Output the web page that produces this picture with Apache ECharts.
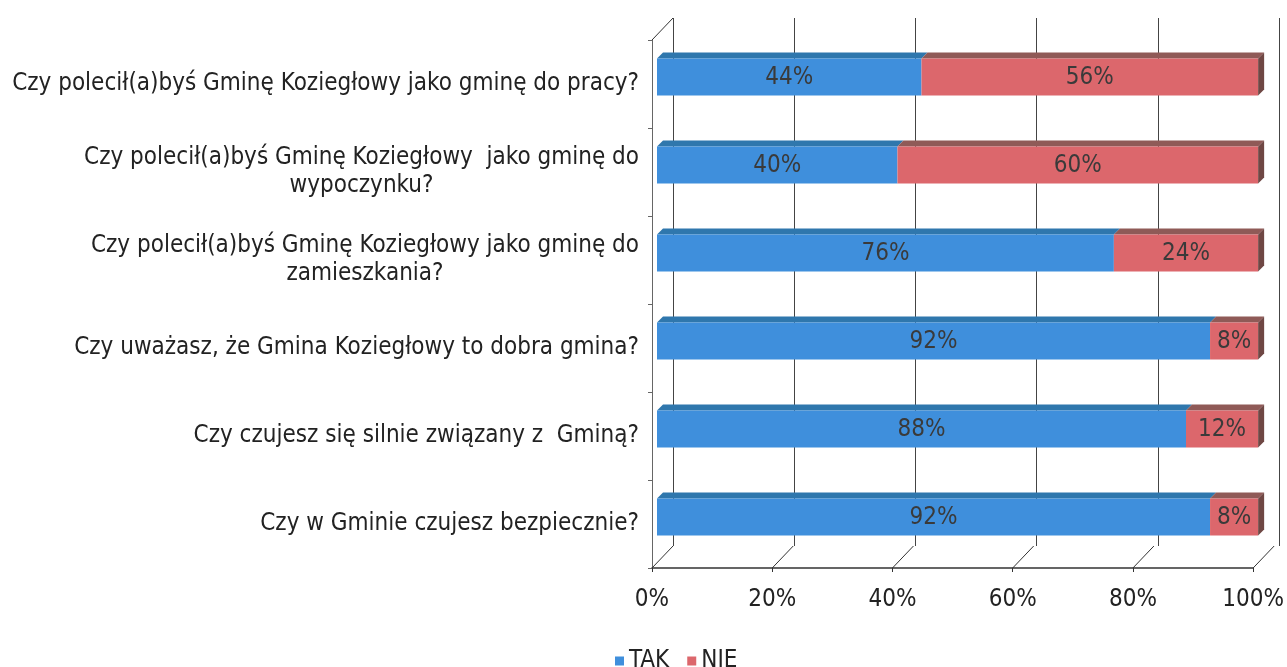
<!DOCTYPE html>
<html><head><meta charset="utf-8">
<script src="https://cdn.jsdelivr.net/npm/echarts@6/dist/echarts.min.js"></script>
<style>html,body{margin:0;padding:0;background:#fff}#c{width:1287px;height:667px}</style>
</head><body><div id="c"></div>
<script>
const categories = [
  'Czy polecił(a)byś Gminę Koziegłowy jako gminę do pracy?',
  'Czy polecił(a)byś Gminę Koziegłowy  jako gminę do\nwypoczynku?',
  'Czy polecił(a)byś Gminę Koziegłowy jako gminę do\nzamieszkania?',
  'Czy uważasz, że Gmina Koziegłowy to dobra gmina?',
  'Czy czujesz się silnie związany z  Gminą?',
  'Czy w Gminie czujesz bezpiecznie?'
];
const takValues = [44, 40, 76, 92, 88, 92];
const nieValues = [56, 60, 24, 8, 12, 8];
const xTicks = [0, 20, 40, 60, 80, 100];
const seriesNames = ['TAK', 'NIE'];

const FONT = '"DejaVu Sans Condensed", "Liberation Sans Narrow", "DejaVu Sans", sans-serif';
const FS = 24;
const BAR_H = 37;          // front face height
const FRONT = [5, -7];     // bar front plane offset from floor front
const DEPTH = [6, -6];     // bar depth
const WALL = [21, -22];    // back wall offset

const colors = {
  TAK: {front: '#3f8fdc', top: '#2f77ad', side: '#2a6a9a'},
  NIE: {front: '#dc676c', top: '#8f5a57', side: '#6f4744'}
};

function makeBarData(startArr, valArr) {
  return valArr.map((v, i) => [i, startArr[i], startArr[i] + v, v]);
}
const takData = makeBarData(takValues.map(() => 0), takValues);
const nieData = makeBarData(takValues, nieValues);

function barRenderer(name, isLast) {
  const c = colors[name];
  return function (params, api) {
    const ci = api.value(0);
    const p0 = api.coord([api.value(1), ci]);
    const p1 = api.coord([api.value(2), ci]);
    const x = p0[0] + FRONT[0];
    const y = p0[1] + FRONT[1] - BAR_H / 2;
    const w = p1[0] - p0[0];
    const h = BAR_H;
    const dx = DEPTH[0], dy = DEPTH[1];
    const children = [
      {type: 'polygon', shape: {points: [[x, y], [x + w, y], [x + w + dx, y + dy], [x + dx, y + dy]]},
        style: {fill: c.top}},
      {type: 'rect', shape: {x: x, y: y, width: w, height: h}, style: {fill: c.front}}
    ];
    if (isLast) {
      children.push({type: 'polygon',
        shape: {points: [[x + w, y], [x + w + dx, y + dy], [x + w + dx, y + h + dy], [x + w, y + h]]},
        style: {fill: c.side}});
    }
    children.push({type: 'text', style: {
      text: api.value(3) + '%', x: x + w / 2, y: y + h / 2 + 1,
      align: 'center', verticalAlign: 'middle',
      font: FS + 'px ' + FONT, fill: '#3a3a3a'}});
    return {type: 'group', children: children};
  };
}

function wallRenderer(params, api) {
  const cs = params.coordSys;
  const bottom = cs.y + cs.height;
  const x = api.coord([api.value(0), 0])[0];
  const children = [{type: 'line', shape: {x1: x, y1: bottom, x2: x + WALL[0], y2: bottom + WALL[1]},
    style: {stroke: '#333', lineWidth: 1}}];
  if (api.value(0) === xTicks[0]) {
    children.push({type: 'line', shape: {x1: cs.x, y1: cs.y, x2: cs.x + WALL[0], y2: cs.y + WALL[1]},
      style: {stroke: '#333', lineWidth: 1}});
  }
  return {type: 'group', children: children};
}

const chart = echarts.init(document.getElementById('c'), null, {renderer: 'canvas'});
const G = {left: 652, right: 29, top: 40, bottom: 99};
chart.setOption({
  animation: false,
  backgroundColor: '#fff',
  textStyle: {fontFamily: FONT},
  legend: {
    data: seriesNames, left: 610, top: 644, icon: 'rect', itemWidth: 9, itemHeight: 9, itemGap: 18,
    textStyle: {fontSize: FS, color: '#222', fontFamily: FONT}
  },
  grid: [
    {left: G.left + WALL[0], right: G.right - WALL[0], top: G.top + WALL[1], bottom: G.bottom - WALL[1]},
    {left: G.left, right: G.right, top: G.top, bottom: G.bottom}
  ],
  xAxis: [
    {type: 'value', gridIndex: 0, min: 0, max: 100, interval: 20,
      axisLine: {show: false}, axisTick: {show: false}, axisLabel: {show: false},
      splitLine: {show: true, lineStyle: {color: '#444', width: 1}}},
    {type: 'value', gridIndex: 1, min: 0, max: 100, interval: 20,
      axisLine: {show: true, lineStyle: {color: '#333', width: 1.5}},
      axisTick: {show: true, length: 4, lineStyle: {color: '#333'}},
      splitLine: {show: false},
      axisLabel: {formatter: v => v + '%', fontSize: FS, color: '#222', margin: 20, fontFamily: FONT}}
  ],
  yAxis: [
    {type: 'category', gridIndex: 0, data: categories, inverse: true, show: false},
    {type: 'category', gridIndex: 1, data: categories, inverse: true,
      axisLine: {show: true, lineStyle: {color: '#666'}},
      axisTick: {show: true, length: 4, inside: false, lineStyle: {color: '#666'}},
      axisLabel: {
        margin: 13, fontSize: FS, color: '#222', fontFamily: FONT, align: 'right', lineHeight: 28,
        formatter: v => v.split('\n').map((l, i) => i === 0 ? l : '{c|' + l + '}').join('\n'),
        rich: {c: {align: 'center', fontSize: FS, color: '#222', fontFamily: FONT, lineHeight: 28}}
      }}
  ],
  series: [
    {type: 'custom', name: 'wall', xAxisIndex: 1, yAxisIndex: 1, silent: true,
      data: xTicks.map(v => [v, 0]), encode: {x: 0, y: 1}, renderItem: wallRenderer, z: 1},
    {type: 'custom', name: 'TAK', xAxisIndex: 1, yAxisIndex: 1, itemStyle: {color: colors.TAK.front},
      data: takData, encode: {x: [1, 2], y: 0}, renderItem: barRenderer('TAK', false), z: 2},
    {type: 'custom', name: 'NIE', xAxisIndex: 1, yAxisIndex: 1, itemStyle: {color: colors.NIE.front},
      data: nieData, encode: {x: [1, 2], y: 0}, renderItem: barRenderer('NIE', true), z: 2}
  ]
});
</script>
</body></html>
